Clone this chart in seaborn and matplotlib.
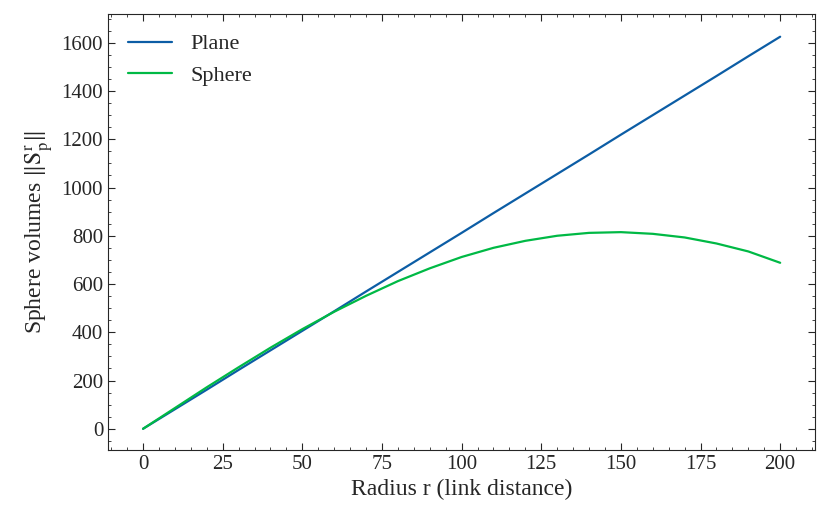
import numpy as np
import pandas as pd
import seaborn as sns
import matplotlib.pyplot as plt
from matplotlib.ticker import AutoMinorLocator

radius = [0, 10, 20, 30, 40, 50, 60, 70, 80, 90, 100, 110, 120, 130, 140, 150, 160, 170, 180, 190, 200]
plane = [0, 81, 162, 244, 325, 406, 487, 569, 650, 731, 812, 894, 975, 1056, 1137, 1219, 1300, 1381, 1462, 1544, 1625]
sphere = [0, 86, 172, 255, 336, 413, 485, 551, 612, 665, 712, 750, 779, 800, 812, 815, 808, 793, 768, 735, 688]

df = pd.DataFrame({"r": radius * 2, "v": plane + sphere,
                   "kind": ["Plane"] * len(radius) + ["Sphere"] * len(radius)})

sns.set_style("ticks")
plt.rcParams['font.family'] = ['Liberation Serif', 'DejaVu Serif']
plt.rcParams['mathtext.fontset'] = 'stix'

fig, ax = plt.subplots(figsize=(8.31, 5.31), dpi=100)
sns.lineplot(data=df, x="r", y="v", hue="kind", palette=["#0C5DA5", "#00B945"], lw=1.6, ax=ax)

ax.set_xlabel("Radius r (link distance)", fontsize=17)
ax.set_ylabel(r"Sphere volumes $\|\mathrm{S}_\mathrm{p}^\mathrm{r}\|$", fontsize=17)
ax.set_xticks(np.arange(0, 201, 25))
ax.set_yticks(np.arange(0, 1601, 200))
ax.set_xlim(-11, 211)
ax.set_ylim(-87, 1720)
ax.xaxis.set_minor_locator(AutoMinorLocator(5))
ax.yaxis.set_minor_locator(AutoMinorLocator(4))
ax.tick_params(which="both", direction="in", top=True, right=True, labelsize=15)
ax.tick_params(which="major", length=5)
ax.tick_params(which="minor", length=2.5)
ax.legend(title=None, frameon=False, fontsize=16, loc="upper left")

fig.subplots_adjust(left=0.13, right=0.981, top=0.974, bottom=0.153)
plt.savefig("out.png", dpi=100)
